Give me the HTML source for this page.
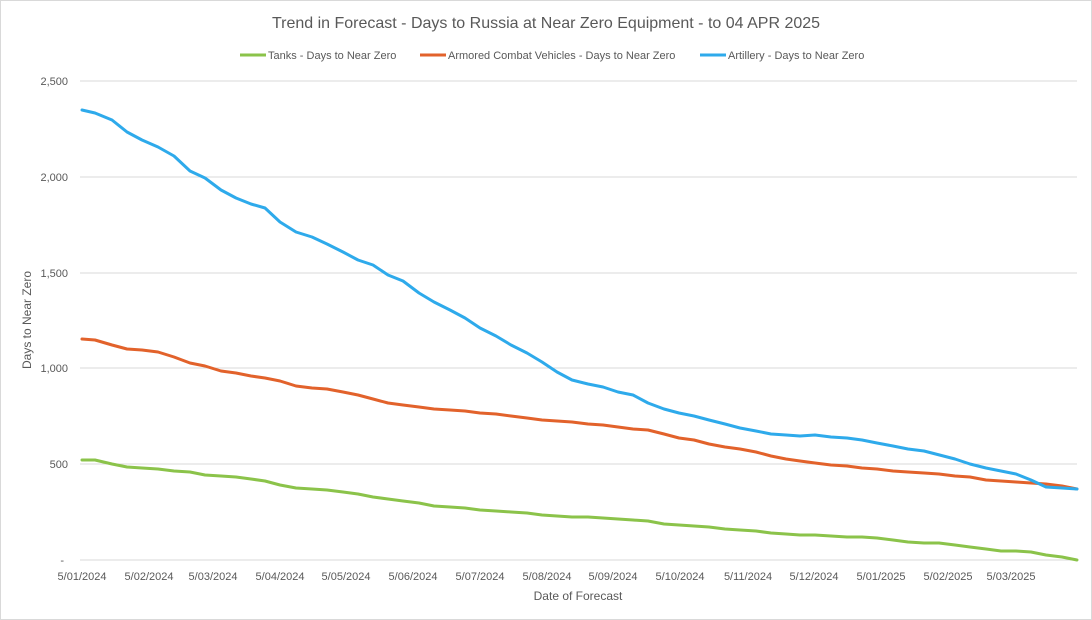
<!DOCTYPE html>
<html><head><meta charset="utf-8"><style>
body{margin:0;background:#fff;}
svg{display:block;font-family:"Liberation Sans",sans-serif;}
</style></head><body>
<svg width="1092" height="620" viewBox="0 0 1092 620">
<rect x="0.5" y="0.5" width="1091" height="619" fill="#fff" stroke="#d9d9d9"/>
<text x="546" y="28" text-anchor="middle" font-size="16" fill="#595959">Trend in Forecast - Days to Russia at Near Zero Equipment - to 04 APR 2025</text>
<g font-size="11" fill="#595959">
<line x1="240" y1="55" x2="266" y2="55" stroke="#8bc34a" stroke-width="3"/><text x="268" y="59">Tanks - Days to Near Zero</text>
<line x1="420" y1="55" x2="446" y2="55" stroke="#e2622b" stroke-width="3"/><text x="448" y="59">Armored Combat Vehicles - Days to Near Zero</text>
<line x1="700" y1="55" x2="726" y2="55" stroke="#2eaaeb" stroke-width="3"/><text x="728" y="59">Artillery - Days to Near Zero</text>
</g>
<g stroke="#d9d9d9" stroke-width="1">
<line x1="80" y1="81" x2="1077" y2="81"/><line x1="80" y1="177" x2="1077" y2="177"/><line x1="80" y1="273" x2="1077" y2="273"/><line x1="80" y1="368" x2="1077" y2="368"/><line x1="80" y1="464" x2="1077" y2="464"/><line x1="80" y1="560" x2="1077" y2="560"/>
</g>
<g font-size="11" fill="#595959" text-anchor="end">
<text x="68" y="85">2,500</text><text x="68" y="181">2,000</text><text x="68" y="277">1,500</text><text x="68" y="372">1,000</text><text x="68" y="468">500</text><text x="64" y="564">-</text>
</g>
<g font-size="11" fill="#595959" text-anchor="middle">
<text x="82" y="580">5/01/2024</text><text x="149" y="580">5/02/2024</text><text x="213" y="580">5/03/2024</text><text x="280" y="580">5/04/2024</text><text x="346" y="580">5/05/2024</text><text x="413" y="580">5/06/2024</text><text x="480" y="580">5/07/2024</text><text x="547" y="580">5/08/2024</text><text x="613" y="580">5/09/2024</text><text x="680" y="580">5/10/2024</text><text x="748" y="580">5/11/2024</text><text x="814" y="580">5/12/2024</text><text x="881" y="580">5/01/2025</text><text x="948" y="580">5/02/2025</text><text x="1011" y="580">5/03/2025</text>
</g>
<text x="578" y="600" text-anchor="middle" font-size="12" fill="#595959">Date of Forecast</text>
<text transform="translate(31,320) rotate(-90)" text-anchor="middle" font-size="12" fill="#595959">Days to Near Zero</text>
<g fill="none" stroke-width="3" stroke-linejoin="round" stroke-linecap="round">
<polyline stroke="#8bc34a" points="82,460 95,460 112,464 127,467 142,468 158,469 174,471 190,472 205,475 221,476 236,477 251,479 265,481 280,485 296,488 312,489 327,490 343,492 358,494 373,497 388,499 403,501 419,503 434,506 450,507 465,508 480,510 496,511 511,512 527,513 542,515 557,516 572,517 588,517 603,518 618,519 633,520 648,521 664,524 679,525 694,526 709,527 725,529 740,530 756,531 771,533 786,534 800,535 815,535 831,536 847,537 862,537 877,538 893,540 908,542 924,543 939,543 955,545 970,547 986,549 1001,551 1016,551 1031,552 1046,555 1062,557 1077,560"/>
<polyline stroke="#e2622b" points="82,339 95,340 112,345 127,349 142,350 158,352 174,357 190,363 205,366 221,371 236,373 251,376 265,378 280,381 296,386 312,388 327,389 343,392 358,395 373,399 388,403 403,405 419,407 434,409 450,410 465,411 480,413 496,414 511,416 527,418 542,420 557,421 572,422 588,424 603,425 618,427 633,429 648,430 664,434 679,438 694,440 709,444 725,447 740,449 756,452 771,456 786,459 800,461 815,463 831,465 847,466 862,468 877,469 893,471 908,472 924,473 939,474 955,476 970,477 986,480 1001,481 1016,482 1031,483 1046,484 1062,486 1077,489"/>
<polyline stroke="#2eaaeb" points="82,110 95,113 112,120 127,132 142,140 158,147 174,156 190,171 205,178 221,190 236,198 251,204 265,208 280,222 296,232 312,237 327,244 343,252 358,260 373,265 388,275 403,281 419,293 434,302 450,310 465,318 480,328 496,336 511,345 527,353 542,362 557,372 572,380 588,384 603,387 618,392 633,395 648,403 664,409 679,413 694,416 709,420 725,424 740,428 756,431 771,434 786,435 800,436 815,435 831,437 847,438 862,440 877,443 893,446 908,449 924,451 955,459 970,464 986,468 1001,471 1016,474 1031,480 1046,487 1062,488 1077,489"/>
</g>
</svg>
</body></html>
